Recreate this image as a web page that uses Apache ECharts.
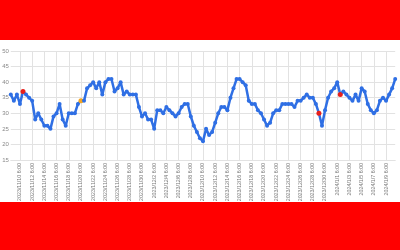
<!DOCTYPE html>
<html>
<head>
<meta charset="utf-8">
<script src="https://cdn.jsdelivr.net/npm/echarts@6/dist/echarts.min.js"></script>
<style>
  html, body { margin: 0; padding: 0; background: #ff0000; width: 400px; height: 250px; overflow: hidden; }
  #chart { position: absolute; left: 0; top: 40px; width: 400px; height: 162px; background: #ffffff; }
</style>
</head>
<body>
<div id="chart"></div>
<script>
// Time points every 12 hours, starting 2023/11/8 18:00
const startTime = '2023/11/08 18:00';
const stepHours = 12;
const values = [
  36, 34, 36, 33, 37, 36, 35, 34, 28, 30,
  28, 26, 26, 25, 29, 30, 33, 28, 26, 30,
  30, 30, 33, 34, 34, 38, 39, 40, 38, 40,
  36, 40, 41, 41, 37, 38, 40, 36, 37, 36,
  36, 36, 32, 29, 30, 28, 28, 25, 31, 31,
  30, 32, 31, 30, 29, 30, 32, 33, 33, 29,
  26, 24, 22, 21, 25, 23, 24, 27, 30, 32,
  32, 31, 35, 38, 41, 41, 40, 39, 34, 33,
  33, 31, 30, 28, 26, 27, 30, 31, 31, 33,
  33, 33, 33, 32, 34, 34, 35, 36, 35, 35,
  33, 30, 26, 31, 35, 37, 38, 40, 36, 37,
  36, 35, 34, 36, 34, 38, 37, 33, 31, 30,
  31, 34, 35, 34, 36, 38, 41
];
const redPoints = [4, 101, 108];
const orangePoints = [23];
const yTicks = [15, 20, 25, 30, 35, 40, 45, 50];

// build category labels
function fmt(d) {
  const h = d.getHours();
  return d.getFullYear() + '/' + (d.getMonth() + 1) + '/' + d.getDate() + ' ' + h + ':00';
}
const categories = [];
const t0 = new Date(startTime);
for (let i = 0; i < values.length; i++) {
  categories.push(fmt(new Date(t0.getTime() + i * stepHours * 3600 * 1000)));
}
const showTick = (idx) => (idx - 3) % 4 === 0 && idx >= 3;

const seriesData = values.map((v, i) => {
  if (redPoints.includes(i)) return { value: v, itemStyle: { color: '#e8201c' }, symbolSize: 5 };
  if (orangePoints.includes(i)) return { value: v, itemStyle: { color: '#f5a623' }, symbolSize: 5 };
  return v;
});

const chart = echarts.init(document.getElementById('chart'), null, { renderer: 'canvas' });
chart.setOption({
  animation: false,
  backgroundColor: '#ffffff',
  grid: { left: 10.8, right: 4.8, top: 11, bottom: 42, containLabel: false, outerBoundsMode: 'none' },
  xAxis: {
    type: 'category',
    data: categories,
    boundaryGap: false,
    axisLine: { show: true, lineStyle: { color: '#e2e2e2', width: 1 } },
    axisTick: { show: false },
    axisLabel: {
      interval: showTick,
      rotate: 90,
      fontSize: 5.3,
      fontFamily: 'Liberation Sans, Arial, sans-serif',
      color: '#7a7a7a',
      margin: 3,
      hideOverlap: false
    },
    splitLine: { show: true, interval: showTick, lineStyle: { color: '#e2e2e2', width: 1 } }
  },
  yAxis: {
    type: 'value',
    min: yTicks[0],
    max: yTicks[yTicks.length - 1],
    interval: 5,
    axisLine: { show: false },
    axisTick: { show: false },
    axisLabel: {
      fontSize: 6,
      fontFamily: 'Liberation Sans, Arial, sans-serif',
      color: '#8a8a8a',
      margin: 2
    },
    splitLine: { show: true, lineStyle: { color: '#e2e2e2', width: 1 } }
  },
  series: [{
    type: 'line',
    data: seriesData,
    symbol: 'circle',
    symbolSize: 4,
    showAllSymbol: true,
    lineStyle: { color: '#2f6fe4', width: 2.5 },
    itemStyle: { color: '#2f6fe4' }
  }]
});
</script>
</body>
</html>
